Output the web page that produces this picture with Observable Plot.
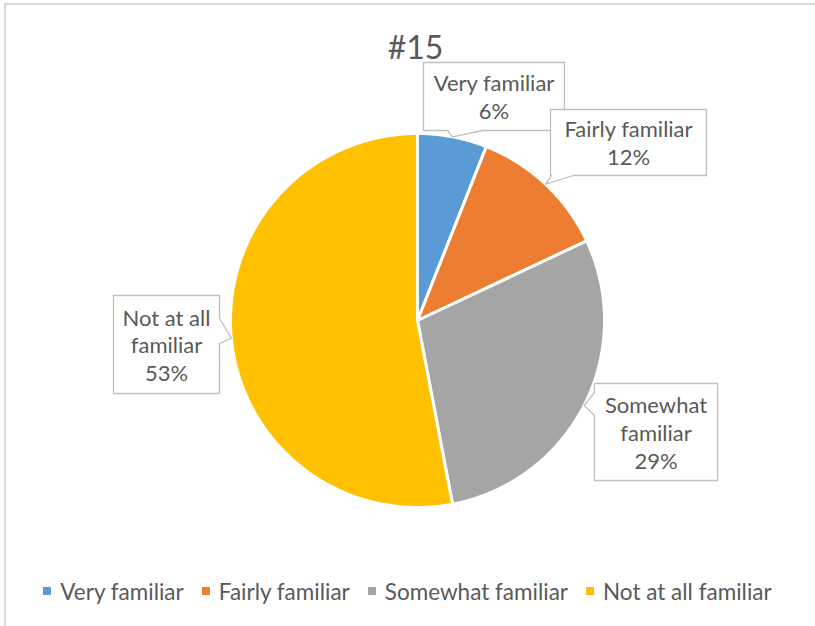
<!DOCTYPE html>
<html><head><meta charset="utf-8">
<script src="https://cdn.jsdelivr.net/npm/d3@7"></script>
<script src="https://cdn.jsdelivr.net/npm/@observablehq/plot@0.6"></script>
<style>
html,body{margin:0;padding:0;background:#fff;}
#wrap{position:relative;width:815px;height:626px;overflow:hidden;font-family:Lato,"Open Sans",sans-serif;}
#frame{position:absolute;left:4px;top:3px;width:900px;height:700px;border-top:2px solid #d9d9d9;border-left:2px solid #d9d9d9;box-sizing:border-box;}
#chart{position:absolute;left:0;top:0;}
#legend{position:absolute;left:0;top:575px;width:815px;}
.lg-swatches{justify-content:center;font-size:22.5px;font-family:Lato,sans-serif;color:#595959;margin:0;min-height:32px;}
.lg-swatch{margin-right:18px;}
.lg-swatch:last-child{margin-right:0;}
.lg-swatch>svg{margin-right:9px;}
</style></head><body>
<div id="wrap"><div id="frame"></div><div id="chart"></div><div id="legend"></div></div>
<script>
// ---- data ----
const title = "#15";
const categories = ["Very familiar", "Fairly familiar", "Somewhat familiar", "Not at all familiar"];
const percents = [6, 12, 29, 53];
const colors = ["#5b9bd5", "#ed7d31", "#a5a5a5", "#ffc000"];

// ---- layout (pixel units of the plot frame) ----
const W = 815, H = 570;
const cx = 417, cy = 320, R = 187;
const callouts = [
  {x0: 423, x1: 564, y0: 62,  y1: 130, side: "bottom", a: 447, b: 482, wrap: false},
  {x0: 550, x1: 706, y0: 109, y1: 175, side: "bottom", a: 551, b: 573, wrap: false},
  {x0: 594, x1: 717, y0: 383, y1: 480, side: "left",   a: 392, b: 415, wrap: true},
  {x0: 113, x1: 219, y0: 295, y1: 393, side: "right",  a: 318, b: 343, wrap: true}
];

const data = categories.map((name, i) => ({name, value: percents[i]}));
const arcs = d3.pie().sort(null).value(d => d.value)(data);

// slice polygons
const slicePts = [];
for (const s of arcs) {
  const key = s.data.name;
  slicePts.push({key, x: cx, y: cy});
  const n = Math.max(2, Math.ceil((s.endAngle - s.startAngle) / (Math.PI / 360)));
  for (let i = 0; i <= n; i++) {
    const a = s.startAngle + (s.endAngle - s.startAngle) * i / n;
    slicePts.push({key, x: cx + R * Math.sin(a), y: cy - R * Math.cos(a)});
  }
}

// callout polygons
const boxPts = [];
const labels = [];
arcs.forEach((s, i) => {
  const c = callouts[i];
  const mid = (s.startAngle + s.endAngle) / 2;
  const tip = {x: cx + R * Math.sin(mid), y: cy - R * Math.cos(mid)};
  const p = [];
  p.push([c.x0, c.y0], [c.x1, c.y0]);
  if (c.side === "right") p.push([c.x1, c.a], [tip.x, tip.y], [c.x1, c.b]);
  p.push([c.x1, c.y1]);
  if (c.side === "bottom") p.push([c.b, c.y1], [tip.x, tip.y], [c.a, c.y1]);
  p.push([c.x0, c.y1]);
  if (c.side === "left") p.push([c.x0, c.b], [tip.x, tip.y], [c.x0, c.a]);
  p.forEach(([x, y]) => boxPts.push({id: i, x, y}));
  let name = s.data.name;
  if (c.wrap) { const k = name.lastIndexOf(" "); name = name.slice(0, k) + "\n" + name.slice(k + 1); }
  labels.push({x: (c.x0 + c.x1) / 2, y: (c.y0 + c.y1) / 2, text: `${name}\n${s.data.value}%`});
});

const chart = Plot.plot({
  width: W, height: H, margin: 0,
  style: {fontFamily: "Lato, sans-serif", background: "transparent"},
  x: {domain: [0, W], range: [0, W], axis: null},
  y: {domain: [0, H], range: [0, H], axis: null},
  color: {domain: categories, range: colors},
  marks: [
    Plot.line(slicePts, {x: "x", y: "y", z: "key", fill: "key", stroke: "white", strokeWidth: 3, strokeLinejoin: "round", curve: "linear-closed"}),
    Plot.line(boxPts, {x: "x", y: "y", z: "id", fill: "white", stroke: "#bfbfbf", strokeWidth: 1.3, curve: "linear-closed"}),
    Plot.text(labels, {x: "x", y: "y", text: "text", fontSize: 22, lineHeight: 1.27, fill: "#595959", textAnchor: "middle"}),
    Plot.text([title], {x: () => 415, y: () => 48, text: d => d, fontSize: 32, fill: "#595959", textAnchor: "middle"})
  ]
});
document.getElementById("chart").appendChild(chart);

const legend = Plot.legend({
  color: {type: "ordinal", domain: categories, range: colors},
  legend: "swatches", swatchSize: 8, className: "lg"
});
document.getElementById("legend").appendChild(legend);
</script>
</body></html>
